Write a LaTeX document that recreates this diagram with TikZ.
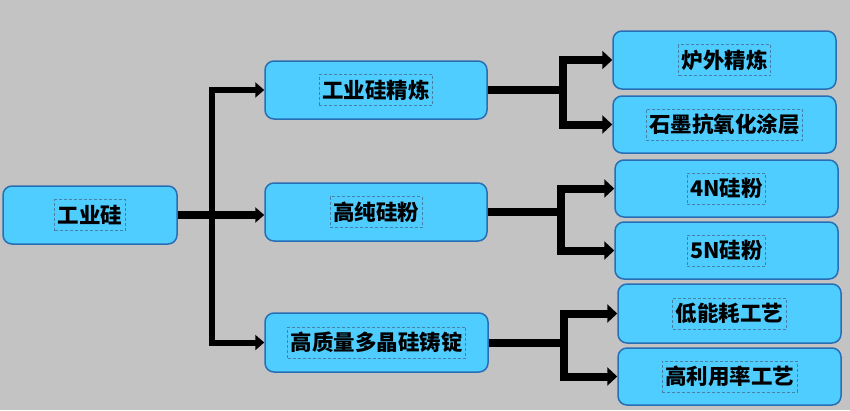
\documentclass[tikz,border=0pt]{standalone}
\usepackage{fontspec}
\setmainfont{Noto Sans CJK SC}
\usetikzlibrary{arrows.meta,calc}
\definecolor{bg}{RGB}{195,195,195}
\definecolor{boxfill}{RGB}{80,205,255}
\definecolor{boxedge}{RGB}{40,110,180}
\definecolor{dashc}{RGB}{70,130,165}
\tikzset{
  box/.style={draw=boxedge, line width=1.5pt, fill=boxfill, rounded corners=9pt,
    minimum width=222pt, minimum height=58pt, inner sep=0pt},
  lbl/.style={draw=dashc, line width=0.6pt, dash pattern=on 3pt off 2pt,
    font=\fontsize{21.5pt}{24pt}\selectfont\bfseries, text=black,
    minimum height=31pt, inner xsep=3pt, inner ysep=0pt},
  connA/.style={line width=6pt, line join=miter, -{Triangle[length=9pt,width=15pt]}},
  connB/.style={line width=8pt, line join=miter, -{Triangle[length=10pt,width=18pt]}},
}
\begin{document}
\begin{tikzpicture}[x=1pt,y=-1pt]
\fill[bg] (0,0) rectangle (850,410);
\useasboundingbox (0,0) rectangle (850,410);
% root
\node[box, minimum width=174pt] (root) at (90,215) {};
\node[lbl] (roott) at (root.center) {工业硅};
% middle
\node[box] (m1) at (376,90) {};
\node[lbl] (m1t) at (m1.center) {工业硅精炼};
\node[box] (m2) at (376,212) {};
\node[lbl] (m2t) at (m2.center) {高纯硅粉};
\node[box, minimum width=223pt, minimum height=59pt] (m3) at (376.5,342.5) {};
\node[lbl] (m3t) at (m3.center) {高质量多晶硅铸锭};
% right
\node[box, minimum width=223pt] (r1) at (724.5,60) {};
\node[lbl] (r1t) at (r1.center) {炉外精炼};
\node[box, minimum width=223pt, minimum height=57pt] (r2) at (724.5,124.5) {};
\node[lbl] (r2t) at (r2.center) {石墨抗氧化涂层};
\node[box, minimum width=223pt, minimum height=57pt] (r3) at (726.5,188.5) {};
\node[lbl] (r3t) at (r3.center) {4N硅粉};
\node[box, minimum width=223pt, minimum height=57pt] (r4) at (726.5,250.5) {};
\node[lbl] (r4t) at (r4.center) {5N硅粉};
\node[box, minimum width=223pt, minimum height=59pt] (r5) at (729.5,313.5) {};
\node[lbl] (r5t) at (r5.center) {低能耗工艺};
\node[box, minimum width=223pt, minimum height=57pt] (r6) at (729.5,376.5) {};
\node[lbl] (r6t) at (r6.center) {高利用率工艺};
% connectors from root
\coordinate (tr) at (212,215);
\draw[connA, line width=8pt] (root.east) -- (root.east -| m2.west);
\draw[connA] (tr) |- (m1.west);
\draw[connA] (tr) |- (m3.west);
% connectors to right
\coordinate (j1) at (563,90);
\coordinate (j2) at (561,212);
\coordinate (j3) at (564,342.5);
\draw[line width=8pt] (m1.east) -- (j1);
\draw[connB] (j1) |- (r1.west);
\draw[connB] (j1) |- (r2.west);
\draw[line width=8pt] (m2.east) -- (j2);
\draw[connB] (j2) |- (r3.west);
\draw[connB] (j2) |- (r4.west);
\draw[line width=8pt] (m3.east) -- (j3);
\draw[connB] (j3) |- (r5.west);
\draw[connB] (j3) |- (r6.west);
\end{tikzpicture}
\end{document}
